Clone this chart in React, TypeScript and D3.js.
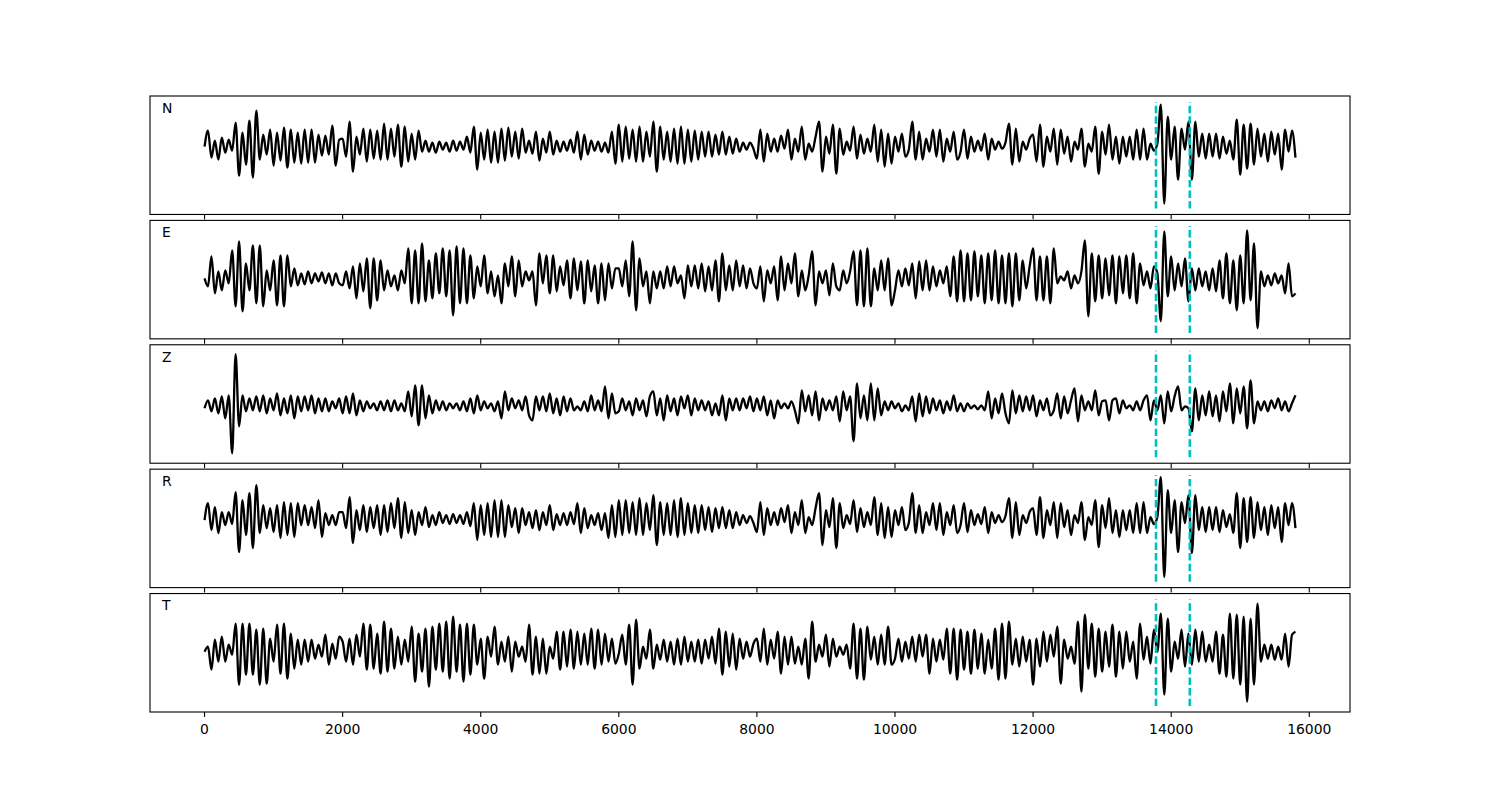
import React from "react";
import * as d3 from "d3";

// ---- data (amplitudes, arbitrary units) ----
const channels = ["N", "E", "Z", "R", "T"];
const segmentStarts = [0, 2000, 4000, 6000, 8000, 10000, 12000, 14000];
const sampleEnd = 15800;
const xTicks = [0, 2000, 4000, 6000, 8000, 10000, 12000, 14000, 16000];
const markerTimes = [13780, 14270];

const traceN = [
  [0, 16, -11, 6, -13, 9, -6, 7, -4, 24, -29, 14, -18, 26, -31, 36, -13, 12, -8, 17, -19, 14, -14, 19, -21, 17, -16, 14, -17, 17, -16, 17, -16, 12, -9, 11, -8, 21, -19, 7],
  [8, -10, 25, -25, 10, -8, 18, -15, 17, -12, 16, -13, 23, -13, 18, -10, 22, -20, 20, -15, 13, -13, 16, -5, 6, -5, 4, -6, 5, -3, 4, -5, 6, -4, 5, -3, 10, -6, 20, -23],
  [14, -13, 17, -16, 15, -16, 18, -14, 19, -10, 15, -12, 18, -6, 6, -7, 15, -14, 8, -6, 15, -8, 6, -5, 5, -4, 7, -6, 15, -13, 12, -8, 6, -4, 5, -5, 4, -6, 15, -17],
  [22, -15, 20, -12, 17, -15, 20, -15, 15, -10, 25, -25, 20, -13, 15, -15, 18, -17, 20, -17, 17, -15, 16, -13, 15, -10, 15, -10, 12, -8, 15, -8, 10, -7, 8, -5, 4, -3, 4, -2],
  [-12, 17, -15, 13, -5, 8, -5, 11, -2, 17, -13, 8, -5, 20, -13, 3, -5, 10, 25, -25, 10, -7, 22, -27, 18, -8, 5, -4, 20, -12, 12, -7, 8, -5, 22, -15, 17, -20, 13, -17],
  [10, -5, 13, -10, -3, 25, -13, 15, -13, 8, -5, 17, -10, 17, -15, 8, -5, 15, -13, -5, 17, -12, 10, -5, 6, -4, 13, -13, 8, -3, 5, -2, 4, 23, -18, 18, -15, 5, -3, 8],
  [12, -15, 22, -20, 10, -5, 18, -18, 17, -7, 10, -15, 5, -3, 18, -20, 3, -5, 20, -27, 15, -8, 22, -13, 10, -17, 10, -10, 10, -13, 17, -13, 18, -13, 3, -4, 3, 42, -57, 30],
  [-13, 20, -33, 18, -3, 25, -33, 25, -10, 13, -12, 13, -10, 13, -12, 10, -7, 6, -13, 27, -28, 22, -22, 23, -18, 18, -10, 13, -15, 15, -8, 13, -23, 17, -5, 16, -11],
];

const traceE = [
  [0, -8, 22, -15, 7, -12, 8, -5, 28, -28, 37, -33, 15, -12, 33, -25, 33, -28, 8, -12, 18, -27, 23, -28, 23, -8, 10, -7, 5, -6, 7, -5, 5, -3, 6, -5, 5, -7, 5, -5],
  [-7, 7, -10, 12, -20, 15, -13, 20, -30, 20, -22, 18, -12, 8, -8, 3, -12, 8, -5, 30, -25, 28, -25, 35, -23, 18, -20, 25, -15, 30, -18, 28, -37, 32, -25, 30, -25, 23, -20, 12],
  [-8, 23, -15, 7, -18, 3, -25, 15, -8, 22, -18, 18, -8, 7, -2, 7, -27, 25, -5, 23, -15, 23, -13, 12, -7, 18, -20, 20, -12, 17, -25, 18, -13, 13, -25, 15, -22, 15, -10, 10],
  [10, -8, 18, -18, 37, -32, 20, -8, 7, -25, 7, -10, 7, -10, 12, -8, 12, -5, 3, -20, 13, -8, 13, -10, 15, -13, 12, -12, 18, -23, 25, -12, 13, -12, 18, -8, 13, -10, 10, -5],
  [-10, 12, -23, 8, -5, 12, -22, 22, -12, 15, -5, 25, -18, 8, -12, 3, 27, -27, 7, -5, 8, -17, 15, -8, -12, 8, -5, 7, 27, -27, 28, -28, 30, -28, 10, -12, 18, -12, 20, -27],
  [-12, 8, -8, 10, -7, 15, -20, 17, -12, 18, -12, 12, -8, 8, -5, 12, -18, 22, -23, 28, -23, 25, -22, 27, -18, 23, -25, 25, -22, 28, -25, 23, -25, 25, -28, 25, -22, 18, -10, 12],
  [30, -22, 22, -22, 22, -25, 30, -5, 2, -2, 7, -10, 3, -5, 7, 38, -38, 25, -23, 23, -20, 20, -17, 23, -25, 22, -15, 23, -20, 25, -25, 15, -7, 7, -10, 12, 5, -43, 47, -18],
  [22, -12, 15, -8, 20, -23, 10, -12, 10, -8, 7, -12, 10, -13, 18, -20, 25, -25, 18, -32, 23, -25, 48, -22, 35, -50, 7, -8, 3, -7, 5, -5, 3, -15, 15, -18, -15],
];

const traceZ = [
  [0, 8, -3, 10, -5, 12, -10, 13, -45, 54, -18, 13, -3, 10, -2, 12, -3, 13, -5, 10, -2, 15, -7, 10, -5, 13, -10, 12, -3, 12, -2, 13, -5, 10, -3, 10, -3, 7, 0, 10],
  [-5, 12, -5, 15, -7, 8, -3, 7, 0, 5, -2, 7, -2, 8, -3, 8, -2, 5, -3, 17, -8, 23, -17, 23, -10, 13, -5, 8, -2, 7, -2, 5, 0, 5, -2, 7, -3, 10, -5, 13],
  [-2, 7, 0, 5, -3, 7, -10, 17, -2, 10, 0, 8, -2, 12, -7, -12, 12, -2, 12, -3, 15, -5, 10, -7, 12, -3, 10, -2, 2, -2, 7, -3, 13, -2, 8, -3, 22, -10, 15, -5],
  [-3, 10, -2, 7, -7, 10, -2, 8, -8, 12, 17, -7, 10, -12, 13, -3, 10, -7, 12, 0, 13, -7, 10, -2, 8, -2, 7, -7, 5, -7, 13, -12, 10, -2, 10, -2, 10, 0, 12, -3],
  [10, -2, 12, -7, 8, -10, 8, 0, 5, 0, 7, -2, -15, 18, -3, 13, -7, 17, -12, 10, -2, 8, -2, 12, -13, 17, -2, 12, -33, 25, -10, 13, -12, 25, -12, 20, -7, 7, -2, 7],
  [0, 5, -3, 3, -2, 12, -13, 15, -8, 12, -5, 10, -2, 8, -5, 7, -2, 13, -3, 5, -3, 5, 0, 3, -1, 3, -2, 17, -10, 10, -5, 15, -5, -15, 18, -5, 13, -3, 12, -2],
  [13, -8, 8, -2, 10, -7, -2, 15, -10, 12, -5, 8, 20, -13, 13, -2, 7, -2, 18, -7, 7, 8, -12, 8, 10, -5, 8, 0, 3, -2, 7, -2, 8, 13, -12, 8, -2, 13, -15, 17],
  [-3, 12, 22, -2, 2, 0, -23, 20, -12, 13, -7, 17, -8, 13, -13, 17, -3, 25, -15, 20, -5, 22, -20, 28, -15, 7, -2, 7, -3, 8, 0, 10, -2, 7, -3, 5, 13],
];

const traceR = [
  [0, 17, -10, 13, -13, 8, -5, 8, -4, 28, -32, 20, -15, 27, -28, 35, -13, 15, -8, 12, -12, 15, -18, 18, -15, 17, -17, 17, -5, 15, -5, 13, -8, 20, -17, 7, -5, 5, -5, 8],
  [8, -8, 23, -23, 10, -10, 15, -12, 13, -8, 15, -15, 15, -12, 17, -8, 22, -18, 18, -13, 10, -15, 8, -5, 13, -7, 5, -5, 8, -3, 5, -4, 6, -3, 5, -4, 8, -6, 17, -20],
  [15, -15, 17, -17, 20, -17, 20, -17, 15, -7, 12, -13, 12, -5, 8, -8, 10, -10, 8, -5, 15, -10, 6, -5, 7, -5, 8, -4, 17, -13, 12, -8, 5, -5, 7, -10, 7, -18, 15, -17],
  [20, -15, 20, -13, 18, -15, 22, -15, 17, -10, 25, -25, 18, -15, 17, -15, 20, -17, 22, -15, 17, -13, 15, -13, 15, -10, 13, -12, 12, -8, 13, -8, 10, -8, 8, -5, 5, -3, 4, -3],
  [-12, 18, -15, 12, -5, 8, -5, 12, -2, 15, -13, 8, -5, 20, -13, 3, -5, 12, 27, -25, 10, -7, 22, -28, 17, -8, 5, -4, 20, -12, 12, -7, 8, -5, 23, -15, 17, -18, 13, -17],
  [10, -5, 13, -10, -3, 27, -13, 15, -13, 8, -5, 17, -10, 17, -15, 8, -5, 15, -13, -5, 17, -12, 10, -5, 6, -4, 13, -13, 8, -3, 5, -2, 4, 22, -18, 18, -15, 5, -3, 8],
  [12, -15, 23, -18, 10, -5, 18, -18, 17, -7, 10, -15, 5, -3, 18, -20, 3, -5, 20, -27, 15, -8, 22, -13, 10, -17, 10, -10, 10, -13, 17, -13, 18, -13, 3, -4, 3, 43, -57, 30],
  [-13, 20, -32, 18, -3, 25, -33, 25, -10, 13, -12, 13, -10, 13, -12, 10, -7, 6, -13, 27, -28, 22, -22, 23, -18, 18, -10, 13, -15, 15, -8, 13, -22, 17, -5, 17, -8],
];

const traceT = [
  [0, 5, -18, 12, -10, 15, -10, 7, -3, 28, -33, 28, -23, 28, -23, 22, -33, 23, -32, 13, -10, 27, -22, 28, -27, 18, -17, 12, -13, 12, -10, 12, -7, 7, -5, 17, -13, 8, -7, 15],
  [10, -10, 13, -13, 17, -5, 28, -18, 27, -17, 18, -22, 30, -20, 23, -17, 15, -13, 12, -10, 25, -30, 18, -20, 23, -35, 25, -18, 28, -20, 30, -27, 35, -20, 27, -30, 28, -23, 27, -13],
  [13, -27, 15, -5, 25, -13, 10, -10, 15, -20, 10, -5, 5, -10, 27, -23, 15, -22, 13, -22, 5, -7, 20, -18, 20, -15, 22, -17, 20, -13, 18, -13, 23, -17, 22, -13, 18, -10, 13, -12],
  [-2, 17, -13, 27, -33, 32, -17, 5, -7, 22, -17, 7, -8, 12, -10, 10, -13, 13, -13, 15, -10, 10, -10, 12, -12, 12, -7, 15, -12, 23, -23, 20, -15, 18, -18, 13, -7, 10, -5, 8],
  [13, -10, 23, -13, 12, -7, 20, -22, 15, -13, 15, -12, 5, -13, 13, -27, 30, -10, 7, -5, 17, -15, 13, -5, 5, -3, 7, -17, 28, -27, 23, -28, 25, -8, 15, -13, 17, -13, 25, -13],
  [-7, 13, -10, 10, -7, 15, -10, 17, -5, 17, -22, 13, -10, 12, -8, 23, -22, 23, -28, 22, -18, 20, -22, 22, -17, 18, -22, 12, -17, 23, -28, 28, -27, 30, -13, 13, -15, 15, -10, 12],
  [-33, 13, -15, 20, -10, 17, -5, 25, -32, 12, -7, 5, -12, 30, -40, 37, -17, 28, -25, 23, -20, 20, -15, 27, -25, 20, -17, 20, -10, 10, -27, 28, -8, 15, -12, 22, 0, 38, -43, 33],
  [-20, 10, -7, 22, -15, 18, -13, 22, -10, 20, -10, 7, -10, 20, -22, 17, -25, 38, -27, 37, -33, 35, -50, 33, -33, 48, -10, 7, -7, 7, -8, 5, -8, 18, -15, 17, 20],
];

const traces = [traceN, traceE, traceZ, traceR, traceT];
// y-limits per panel: [bottom, top]
const yLimits = [
  [-67.8, 50.7],
  [-60.5, 58],
  [-54.9, 63.5],
  [-67.6, 50.9],
  [-60.3, 58.2],
];

// ---- layout ----
const W = 1500;
const H = 800;
const left = 150;
const right = 1350;
const top = 96;
const bottom = 712;
const panelH = (bottom - top) / (5 + 4 * 0.05);
const gap = panelH * 0.05;
const FONT = "DejaVu Sans, Liberation Sans, sans-serif";

function buildPoints(segs: number[][]) {
  const pts: [number, number][] = [];
  segs.forEach((seg, k) => {
    const start = segmentStarts[k];
    const last = k === segs.length - 1;
    const end = last ? sampleEnd : segmentStarts[k + 1];
    const step = last ? (end - start) / (seg.length - 1) : (end - start) / seg.length;
    seg.forEach((v, j) => pts.push([start + j * step, v]));
  });
  return pts;
}

export default function App() {
  const x = d3.scaleLinear().domain([-790, 16590]).range([left, right]);

  return (
    <svg
      width={W}
      height={H}
      style={{ position: "absolute", left: 0, top: 0, background: "#fff" }}
      fontFamily={FONT}
    >
      <rect x={0} y={0} width={W} height={H} fill="#fff" />
      {channels.map((ch, i) => {
        const y0 = top + i * (panelH + gap);
        const y1 = y0 + panelH;
        const y = d3.scaleLinear().domain(yLimits[i]).range([y1, y0]);
        const line = d3
          .line<[number, number]>()
          .x((d) => x(d[0]))
          .y((d) => y(d[1]))
          .curve(d3.curveMonotoneX);
        const pts = buildPoints(traces[i]);
        const isLast = i === channels.length - 1;
        return (
          <g key={ch}>
            <path d={line(pts) || ""} fill="none" stroke="#000" strokeWidth={2.3} strokeLinejoin="round" />
            {markerTimes.map((t) => (
              <line
                key={t}
                x1={x(t)}
                x2={x(t)}
                y1={y1 - 0.05 * panelH}
                y2={y0 + 0.05 * panelH}
                stroke="#00bfbf"
                strokeWidth={2.6}
                strokeDasharray="7.4,3.2"
              />
            ))}
            <rect x={left} y={y0} width={right - left} height={panelH} fill="none" stroke="#000" strokeWidth={1.1} />
            <text x={left + 12} y={y0 + 0.1 * panelH} dominantBaseline="central" fontSize={13.9} fill="#000">
              {ch}
            </text>
            {xTicks.map((t) => (
              <g key={t}>
                <line x1={x(t)} x2={x(t)} y1={y1} y2={y1 + 4.9} stroke="#000" strokeWidth={1.1} />
                {isLast && (
                  <text x={x(t)} y={y1 + 21.5} textAnchor="middle" fontSize={13.9} fill="#000">
                    {t}
                  </text>
                )}
              </g>
            ))}
          </g>
        );
      })}
    </svg>
  );
}
